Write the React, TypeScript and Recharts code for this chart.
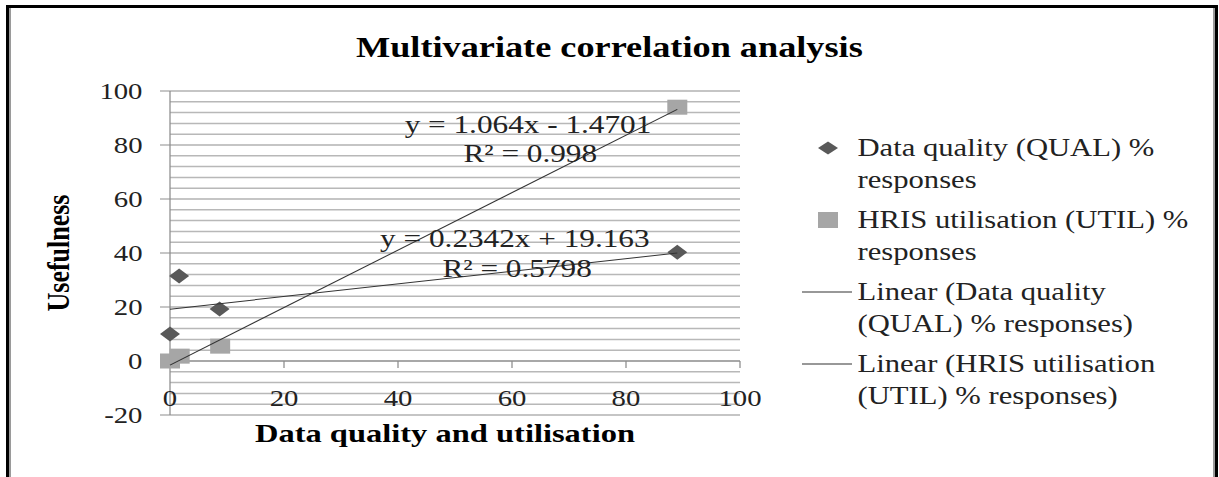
import React from 'react';
import {
  ComposedChart,
  Scatter,
  XAxis,
  YAxis,
  CartesianGrid,
  ReferenceLine,
  ReferenceDot,
  Legend,
  Label,
} from 'recharts';

const FONT = '"Liberation Serif", "Times New Roman", serif';
// the original picture is stretched sideways, so the chart is drawn narrower and scaled
const STRETCH = 1.25;
const CHART_W = 975;
const CHART_H = 477;

const xTicks = [0, 20, 40, 60, 80, 100];
const yTicks = [-20, 0, 20, 40, 60, 80, 100];
const yMinorTicks = [
  -16, -12, -8, -4, 4, 8, 12, 16, 24, 28, 32, 36, 44, 48, 52, 56, 64, 68, 72, 76, 84, 88, 92, 96,
];

const qualPoints = [
  { x: 0, y: 10 },
  { x: 1.6, y: 31.5 },
  { x: 8.7, y: 19.3 },
  { x: 89, y: 40.3 },
];
const utilPoints = [
  { x: 0, y: 0 },
  { x: 1.7, y: 1.8 },
  { x: 8.8, y: 5.5 },
  { x: 89, y: 94 },
];
const qualTrend = [
  { x: 0, y: 19.2 },
  { x: 89, y: 40.0 },
];
const utilTrend = [
  { x: 0, y: -1.5 },
  { x: 89, y: 93.2 },
];

const equations = [
  { x: 62.8, y: 87.7, text: 'y = 1.064x - 1.4701' },
  { x: 63.2, y: 77, text: 'R² = 0.998' },
  { x: 60.5, y: 45.6, text: 'y = 0.2342x + 19.163' },
  { x: 60.9, y: 34.4, text: 'R² = 0.5798' },
];

const legendEntries = [
  { icon: 'diamond', lines: ['Data quality (QUAL) %', 'responses'] },
  { icon: 'square', lines: ['HRIS utilisation (UTIL) %', 'responses'] },
  { icon: 'line', lines: ['Linear (Data quality', '(QUAL) % responses)'] },
  { icon: 'line', lines: ['Linear (HRIS utilisation', '(UTIL) % responses)'] },
];

const QUAL_COLOR = '#595959';
const UTIL_COLOR = '#a6a6a6';
const TREND_COLOR = '#333333';
const MAJOR_GRID = '#8c8c8c';
const MINOR_GRID = '#b8b8b8';

const Diamond = (props: any) => {
  const { cx, cy } = props;
  if (cx == null || cy == null) return <g />;
  return (
    <polygon
      points={`${cx},${cy - 7.5} ${cx + 8},${cy} ${cx},${cy + 7.5} ${cx - 8},${cy}`}
      fill={QUAL_COLOR}
    />
  );
};

const Square = (props: any) => {
  const { cx, cy } = props;
  if (cx == null || cy == null) return <g />;
  return <rect x={cx - 8} y={cy - 7.5} width={16} height={15} fill={UTIL_COLOR} />;
};

const NoMark = () => <g />;

const renderXTick = (p: any) => (
  <text
    x={p.x}
    y={p.y - 16}
    textAnchor="middle"
    dominantBaseline="central"
    fontSize={23}
    fontFamily={FONT}
    fill="#222"
  >
    {p.payload.value}
  </text>
);

const renderXTitle = (p: any) => {
  const vb = p.viewBox;
  return (
    <text
      x={vb.x + vb.width / 2 - 8}
      y={vb.y + 18}
      textAnchor="middle"
      dominantBaseline="central"
      fontSize={26}
      fontWeight="bold"
      fontFamily={FONT}
      fill="#000"
    >
      Data quality and utilisation
    </text>
  );
};

const renderYTitle = (p: any) => {
  const vb = p.viewBox;
  const cx = vb.x + 10.4;
  const cy = vb.y + vb.height / 2;
  return (
    <text
      x={cx}
      y={cy}
      transform={`rotate(-90 ${cx} ${cy})`}
      textAnchor="middle"
      dominantBaseline="central"
      fontSize={26}
      fontWeight="bold"
      fontFamily={FONT}
      fill="#000"
    >
      Usefulness
    </text>
  );
};

const LegendIcon = ({ icon }: { icon: string }) => {
  if (icon === 'diamond') {
    return (
      <svg width={46} height={32}>
        <polygon points="22.4,9.5 30.4,16 22.4,22.5 14.4,16" fill={QUAL_COLOR} />
      </svg>
    );
  }
  if (icon === 'square') {
    return (
      <svg width={46} height={32}>
        <rect x={14.4} y={8} width={16} height={16} fill={UTIL_COLOR} />
      </svg>
    );
  }
  return (
    <svg width={46} height={32}>
      <line x1={1.6} y1={16} x2={41.6} y2={16} stroke={TREND_COLOR} strokeWidth={1} />
    </svg>
  );
};

const renderLegend = () => (
  <div style={{ fontFamily: FONT, fontSize: 24.5, color: '#222' }}>
    {legendEntries.map((entry, i) => (
      <div key={i} style={{ display: 'flex', alignItems: 'flex-start', marginTop: i === 0 ? 0 : 8 }}>
        <LegendIcon icon={entry.icon} />
        <div style={{ lineHeight: '32px', whiteSpace: 'nowrap' }}>
          {entry.lines.map((line, j) => (
            <div key={j}>{line}</div>
          ))}
        </div>
      </div>
    ))}
  </div>
);

const App: React.FC = () => {
  return (
    <div
      style={{
        position: 'absolute',
        left: 0,
        top: 0,
        width: 1219,
        height: 477,
        overflow: 'hidden',
        background: '#fff',
      }}
    >
      <div
        style={{
          position: 'absolute',
          left: 6,
          top: 5,
          width: 1212,
          height: 500,
          boxSizing: 'border-box',
          borderTop: '3px solid #000',
          borderLeft: '3px solid #000',
          borderRight: '3px solid #000',
          boxShadow: 'inset 2px 0 0 #9a9a9a, inset -2px 0 0 #9a9a9a',
        }}
      />
      <div
        style={{
          position: 'absolute',
          left: 0,
          top: 0,
          width: CHART_W,
          height: CHART_H,
          transform: `scaleX(${STRETCH})`,
          transformOrigin: '0 0',
        }}
      >
        <div
          style={{
            position: 'absolute',
            left: 0,
            top: 33,
            width: CHART_W,
            textAlign: 'center',
            fontFamily: FONT,
            fontWeight: 'bold',
            fontSize: 29,
            lineHeight: '29px',
            color: '#000',
          }}
        >
          Multivariate correlation analysis
        </div>
        <ComposedChart
          width={CHART_W}
          height={CHART_H}
          margin={{ top: 91, right: 383, bottom: 61, left: 36 }}
        >
          <XAxis
            type="number"
            dataKey="x"
            domain={[0, 100]}
            ticks={xTicks}
            interval={0}
            axisLine={false}
            tickLine={false}
            tickSize={0}
            tickMargin={0}
            height={1}
            tick={renderXTick}
          >
            <Label content={renderXTitle} />
          </XAxis>
          <YAxis
            yAxisId="main"
            type="number"
            dataKey="y"
            domain={[-20, 100]}
            ticks={yTicks}
            interval={0}
            width={100}
            axisLine={{ stroke: MAJOR_GRID }}
            tickLine={{ stroke: MAJOR_GRID }}
            tickSize={8}
            tickMargin={14}
            tick={{ fontSize: 23, fill: '#222', fontFamily: FONT }}
          >
            <Label content={renderYTitle} />
          </YAxis>
          {yMinorTicks.map((v) => (
            <ReferenceLine key={`m${v}`} yAxisId="main" y={v} stroke={MINOR_GRID} strokeWidth={1.5} />
          ))}
          <CartesianGrid yAxisId="main" vertical={false} stroke={MAJOR_GRID} />
          <ReferenceLine yAxisId="main" y={0} stroke={MAJOR_GRID} />
          {xTicks
            .filter((t) => t !== 0)
            .map((t) => (
              <ReferenceLine
                key={t}
                yAxisId="main"
                segment={[
                  { x: t, y: 0 },
                  { x: t, y: -2.6 },
                ]}
                stroke={MAJOR_GRID}
              />
            ))}
          <Scatter
            name="Data quality (QUAL) % responses"
            yAxisId="main"
            data={qualPoints}
            shape={Diamond}
            isAnimationActive={false}
          />
          <Scatter
            name="HRIS utilisation (UTIL) % responses"
            yAxisId="main"
            data={utilPoints}
            shape={Square}
            isAnimationActive={false}
          />
          <Scatter
            name="Linear (Data quality (QUAL) % responses)"
            yAxisId="main"
            data={qualTrend}
            line={{ stroke: TREND_COLOR, strokeWidth: 1 }}
            shape={NoMark}
            isAnimationActive={false}
          />
          <Scatter
            name="Linear (HRIS utilisation (UTIL) % responses)"
            yAxisId="main"
            data={utilTrend}
            line={{ stroke: TREND_COLOR, strokeWidth: 1 }}
            shape={NoMark}
            isAnimationActive={false}
          />
          {equations.map((eq, i) => (
            <ReferenceDot
              key={i}
              yAxisId="main"
              x={eq.x}
              y={eq.y}
              r={0}
              stroke="none"
              fill="none"
              ifOverflow="visible"
              label={{ value: eq.text, position: 'center', fontSize: 25, fill: '#222', fontFamily: FONT }}
            />
          ))}
          <Legend
            content={renderLegend}
            layout="vertical"
            align="center"
            verticalAlign="middle"
            wrapperStyle={{ left: 640, top: 132, width: 330 }}
          />
        </ComposedChart>
      </div>
    </div>
  );
};

export default App;
